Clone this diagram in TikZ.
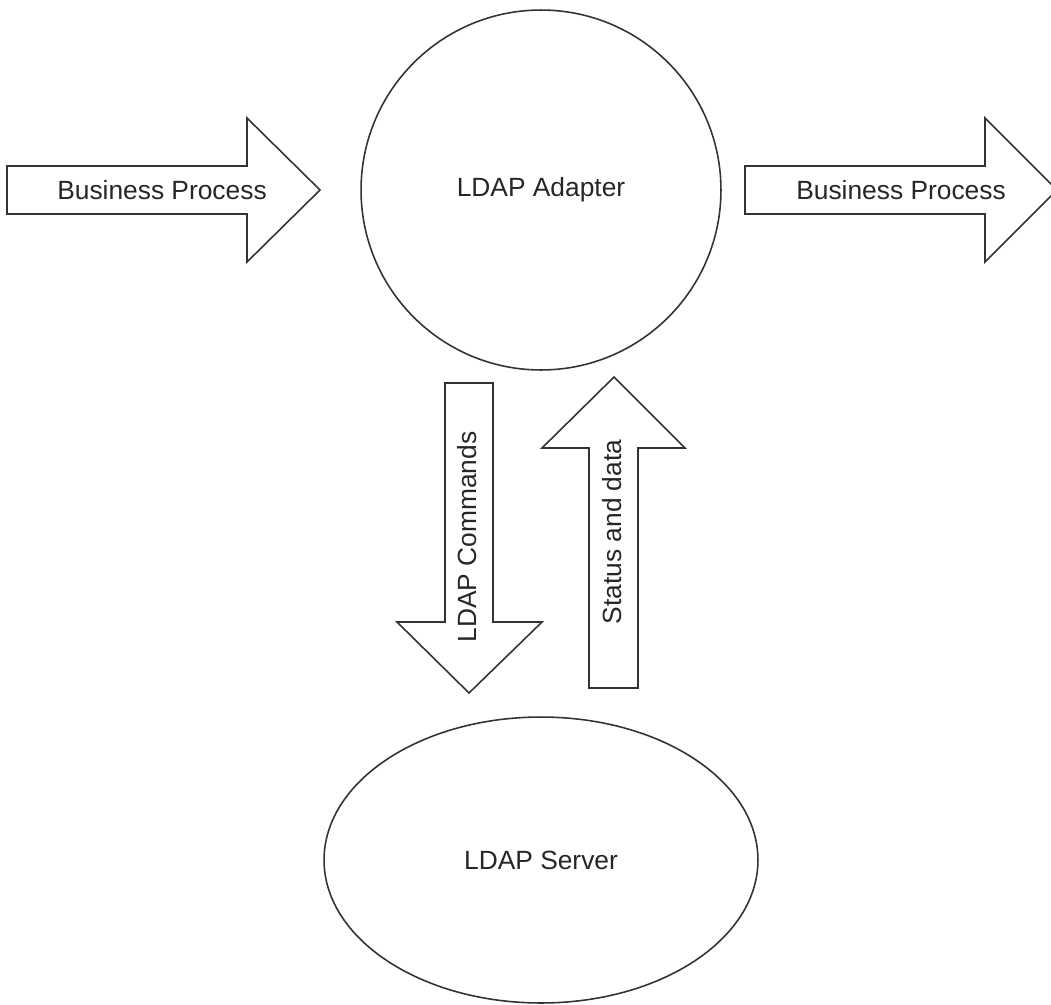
\documentclass[tikz,border=0pt]{standalone}
\usepackage{fontspec}
\setmainfont{Liberation Sans}
\usetikzlibrary{shapes.geometric}
\begin{document}
\begin{tikzpicture}[x=0.02cm,y=-0.02cm,
		linea/.style={draw=black!80, line width=0.9pt},
		txt/.style={font=\fontsize{15}{18}\selectfont, text=black!85}]
		\useasboundingbox (0,0) rectangle (1051,1004);
		
		% adaptador
		\node[linea, txt, circle, minimum size=7.2cm, inner sep=0pt] (adapter) at (541,190) {LDAP Adapter};
		
		% servidor
		\node[linea, txt, ellipse, minimum width=8.68cm, minimum height=5.72cm] (server) at (541,860) {LDAP Server};
		
		% flecha de entrada
		\draw[linea] (7,166) -- (247,166) -- (247,118) -- (320,190) -- (247,262) -- (247,214) -- (7,214) -- cycle;
		\node[txt] (bpin) at (162,190) {Business Process};
		
		% flecha de salida
		\draw[linea] (745,166) -- (985,166) -- (985,118) -- (1057,190) -- (985,262) -- (985,214) -- (745,214) -- cycle;
		\node[txt] (bpout) at (901,190) {Business Process};
		
		% comandos
		\draw[linea] (445,383) -- (493,383) -- (493,622) -- (542,622) -- (469,693) -- (397,622) -- (445,622) -- cycle;
		\node[txt, rotate=90] (cmds) at (467,537) {LDAP Commands};
		
		% respuesta
		\draw[linea] (589,688) -- (638,688) -- (638,448) -- (685,448) -- (614,377) -- (542,448) -- (589,448) -- cycle;
		\node[txt, rotate=90] (status) at (612,532) {Status and data};
	\end{tikzpicture}
\end{document}
